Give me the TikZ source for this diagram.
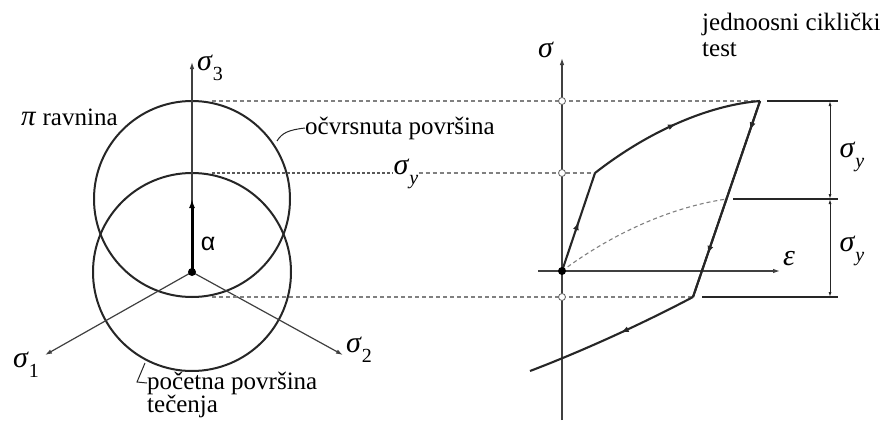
\documentclass[tikz,border=0pt]{standalone}
\usepackage{fontspec}
\setmainfont{Liberation Serif}
\newfontfamily\sansf{Liberation Sans}
\usetikzlibrary{arrows.meta,decorations.markings}
\newcommand\gsig{\textit{σ}}
\newcommand\gsub[1]{\raisebox{-0.32em}{\fontsize{20}{20}\selectfont #1}}
\begin{document}
\begin{tikzpicture}[x=1pt,y=-1pt,
  axis/.style={line width=1.2pt, black!75, -{Latex[length=7pt,width=4.5pt]}},
  surf/.style={line width=2pt, black!85},
  curve/.style={line width=2.1pt, black!85},
  guide/.style={line width=1.1pt, black!50, dash pattern=on 4pt off 3pt},
  guidedark/.style={line width=1.1pt, black!65, dash pattern=on 3pt off 2pt},
  dim/.style={line width=1.3pt, black!85},
  dimarrow/.style={line width=0.9pt, black!85, {Latex[length=5pt,width=3pt]}-{Latex[length=5pt,width=3pt]}},
  lbl/.style={inner sep=0pt, font=\fontsize{25}{26}\selectfont},
  mlbl/.style={inner sep=0pt, font=\fontsize{30}{30}\selectfont},
  midarrow/.style={postaction={decorate}, decoration={markings, mark=at position #1 with {\arrow{Latex[length=8pt,width=6pt]}}}},
  opendot/.style={circle, draw=black!60, fill=white, line width=0.8pt, inner sep=0pt, minimum size=7pt},
  fulldot/.style={circle, fill=black, inner sep=0pt, minimum size=8pt},
]
\useasboundingbox[fill=white] (0,0) rectangle (883,423);

% ---------- left: pi plane ----------
\coordinate (O) at (192,272);
\coordinate (A) at (192,199);
\coordinate (S3) at (192,62);
\coordinate (S1) at (45,355);
\coordinate (S2) at (343,355);

\draw[surf] (A) circle[radius=98pt];
\draw[surf] (O) circle[radius=99pt];

\draw[axis] (O) -- (S3);
\draw[axis] (O) -- (S1);
\draw[axis] (O) -- (S2);
\draw[line width=3pt, black, -{Latex[length=9pt,width=6pt]}] (O) -- (A);
\node[fulldot] (Od) at (O) {};

\node[mlbl, anchor=west] (s3) at (197,68) {\gsig\gsub{3}};
\node[mlbl] (s1) at (26,365) {\gsig\gsub{1}};
\node[mlbl] (s2) at (359,350) {\gsig\gsub{2}};
\node[inner sep=0pt, font=\sansf\fontsize{25}{25}\selectfont] (al) at (208,244) {α};

\node[lbl, anchor=west] (pi) at (21,117) {\textit{\fontsize{29}{29}\selectfont π} ravnina};
\node[lbl, anchor=west] (hard) at (305,128) {očvrsnuta površina};
\coordinate (hc) at (277,141);
\draw[line width=1pt, black!85] (hc) .. controls (282,133) and (288,130) .. (hard.west);

\node[lbl, anchor=north west, align=left, font=\fontsize{25}{23}\selectfont] (init) at (147,372) {početna površina\\tečenja};
\coordinate (ic) at (145,363);
\coordinate (ik) at (137,382);
\draw[line width=1pt, black!85] (ic) -- (ik) -- (init.north west |- 0,383);

% ---------- guide lines ----------
\coordinate (Pk) at (760,101);
\coordinate (Y1) at (595,173);
\coordinate (L1) at (693,297);
\node[mlbl] (syl) at (406,174) {\gsig\gsub{\textit{y}}};
\draw[guide] (212,101) -- (Pk);
\draw[guidedark] (212,173) -- (syl.west |- 212,173);
\draw[guide] (syl.east |- 212,173) -- (Y1);
\draw[guide] (212,297) -- (L1);

% ---------- right: cyclic test ----------
\coordinate (P) at (562,271);
\coordinate (Sb) at (562,420);
\coordinate (Sy) at (562,58);
\coordinate (E0) at (538,271);
\coordinate (E) at (780,271);
\coordinate (D) at (727,199);
\coordinate (End) at (530,371);

\draw[axis] (Sb) -- (Sy);
\draw[axis] (E0) -- (E);
\node[mlbl] (sig) at (546,50) {\gsig};
\node[mlbl] (eps) at (789,259) {\textit{ε}};

\draw[guide] (P) .. controls (610,235) and (670,207) .. (D);

\draw[curve, midarrow=0.5] (P) -- (Y1);
\draw[curve, midarrow=0.52] (Y1) .. controls (650,130) and (710,105) .. (Pk);
\draw[curve, midarrow=0.15] (Pk) -- (L1);
\draw[curve, midarrow=0.78] (Pk) -- (L1);
\draw[curve, midarrow=0.45] (L1) .. controls (640,325) and (580,352) .. (End);

\node[opendot] (d1) at (562,101) {};
\node[opendot] (d2) at (562,173) {};
\node[opendot] (d3) at (562,297) {};
\node[fulldot] (d0) at (P) {};

% dimension lines
\coordinate (H1a) at (767,101); \coordinate (H1b) at (838,101);
\coordinate (H2a) at (733,199); \coordinate (H2b) at (838,199);
\coordinate (H3a) at (702,297); \coordinate (H3b) at (838,297);
\coordinate (V1) at (830,101); \coordinate (V2) at (830,199); \coordinate (V3) at (830,297);
\draw[dim] (H1a) -- (H1b);
\draw[dim] (H2a) -- (H2b);
\draw[dim] (H3a) -- (H3b);
\draw[dimarrow] (V1) -- (V2);
\draw[dimarrow] (V2) -- (V3);
\node[mlbl] (sy1) at (852,157) {\gsig\gsub{\textit{y}}};
\node[mlbl] (sy2) at (852,251) {\gsig\gsub{\textit{y}}};

\node[lbl, anchor=north west, align=left] (title) at (702,13) {jednoosni ciklički\\test};
\end{tikzpicture}
\end{document}
